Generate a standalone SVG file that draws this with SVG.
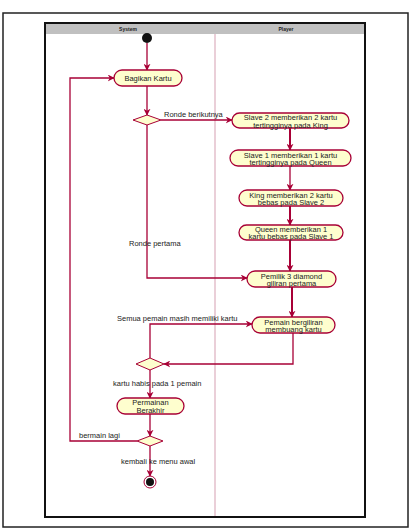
<svg xmlns="http://www.w3.org/2000/svg" width="410" height="530" viewBox="0 0 410 530">
<style>
.node rect{fill:#FEFECE;stroke:#A80036;stroke-width:1.3}
.node text,.lbl{font-family:"Liberation Sans",Arial,sans-serif;font-size:7.5px;fill:#222}
.node text{text-anchor:middle}
.dia{fill:#FEFECE;stroke:#A80036;stroke-width:1}
.edge{fill:none;stroke:#A80036;stroke-width:1.3}
.edge.thick{stroke-width:2}
.hdr{font-family:"Liberation Sans",Arial,sans-serif;font-size:5px;font-weight:bold;fill:#222;text-anchor:middle}
</style>
<defs>
<marker id="arr" viewBox="0 0 10 10" refX="9" refY="5" markerWidth="7" markerHeight="7" markerUnits="userSpaceOnUse" orient="auto">
<path d="M0,0 L10,5 L0,10 L3,5 Z" fill="#A80036"/>
</marker>
</defs>
<rect width="410" height="530" fill="#fff"/>
<rect x="3" y="13" width="405" height="514" fill="none" stroke="#222" stroke-width="1.5"/>
<rect x="45" y="23" width="320" height="494" fill="#fff" stroke="#111" stroke-width="2"/>
<rect x="46" y="24" width="318" height="10" fill="#C0C0C0"/>
<text class="hdr" x="128" y="31">System</text>
<text class="hdr" x="286" y="31">Player</text>
<line x1="215" y1="34" x2="215" y2="516" stroke="#E3BFCB" stroke-width="1.5"/>

<g id="connectors">
<path class="edge" d="M147,43 V70" marker-end="url(#arr)"/>
<path class="edge" d="M147,86 V115" marker-end="url(#arr)"/>
<path class="edge" d="M161,120 H232" marker-end="url(#arr)"/>
<text class="lbl" x="164" y="117">Ronde berikutnya</text>
<path class="edge thick" d="M290,128 V150" marker-end="url(#arr)"/>
<path class="edge" d="M290,166 V190" marker-end="url(#arr)"/>
<path class="edge thick" d="M290,206 V225" marker-end="url(#arr)"/>
<path class="edge thick" d="M290,240 V271" marker-end="url(#arr)"/>
<path class="edge" d="M147,125 V278 H247" marker-end="url(#arr)"/>
<text class="lbl" x="129" y="246">Ronde pertama</text>
<path class="edge thick" d="M292,287 V317" marker-end="url(#arr)"/>
<path class="edge" d="M293,333 V364 H164" marker-end="url(#arr)"/>
<path class="edge" d="M150,358 V324 H252" marker-end="url(#arr)"/>
<text class="lbl" x="117" y="321">Semua pemain masih memiliki kartu</text>
<path class="edge" d="M150,370 V398" marker-end="url(#arr)"/>
<text class="lbl" x="113" y="386">kartu habis pada 1 pemain</text>
<path class="edge" d="M150,414 V436" marker-end="url(#arr)"/>
<path class="edge" d="M137,441 H70 V78 H114" marker-end="url(#arr)"/>
<text class="lbl" x="79" y="438">bermain lagi</text>
<path class="edge" d="M150,446 V476" marker-end="url(#arr)"/>
<text class="lbl" x="121" y="464">kembali ke menu awal</text>
</g>

<g id="start"><circle cx="147" cy="38" r="5" fill="#111"/></g>
<g id="bagikan" class="node"><rect x="114" y="70" width="68" height="16" rx="8"/><text x="148" y="80.5">Bagikan Kartu</text></g>
<g id="d1"><polygon class="dia" points="133,120 147,115 161,120 147,125"/></g>
<g id="slave2" class="node"><rect x="232" y="113" width="117" height="15" rx="7.5"/><text x="290.5" y="120">Slave 2 memberikan 2 kartu</text><text x="290.5" y="127.5">tertingginya pada King</text></g>
<g id="slave1" class="node"><rect x="230" y="150" width="121" height="16" rx="8"/><text x="290.5" y="157.5">Slave 1 memberikan 1 kartu</text><text x="290.5" y="165">tertingginya pada Queen</text></g>
<g id="king" class="node"><rect x="239" y="190" width="104" height="16" rx="8"/><text x="291" y="197.5">King memberikan 2 kartu</text><text x="291" y="205">bebas pada Slave 2</text></g>
<g id="queen" class="node"><rect x="239" y="225" width="104" height="15" rx="7.5"/><text x="291" y="231.5">Queen memberikan 1</text><text x="291" y="239">kartu bebas pada Slave 1</text></g>
<g id="pemilik" class="node"><rect x="247" y="271" width="89" height="16" rx="8"/><text x="291.5" y="278.5">Pemilik 3 diamond</text><text x="291.5" y="286">giliran pertama</text></g>
<g id="pemain" class="node"><rect x="252" y="317" width="83" height="16" rx="8"/><text x="293.5" y="324.5">Pemain bergiliran</text><text x="293.5" y="332">membuang kartu</text></g>
<g id="d2"><polygon class="dia" points="136,364 150,358 164,364 150,370"/></g>
<g id="berakhir" class="node"><rect x="117" y="398" width="67" height="16" rx="8"/><text x="150.5" y="405">Permainan</text><text x="150.5" y="413">Berakhir</text></g>
<g id="d3"><polygon class="dia" points="137,441 150,436 163,441 150,446"/></g>
<g id="end"><circle cx="150" cy="482" r="6" fill="none" stroke="#A80036" stroke-width="1"/><circle cx="150" cy="482" r="4" fill="#111"/></g>
</svg>
